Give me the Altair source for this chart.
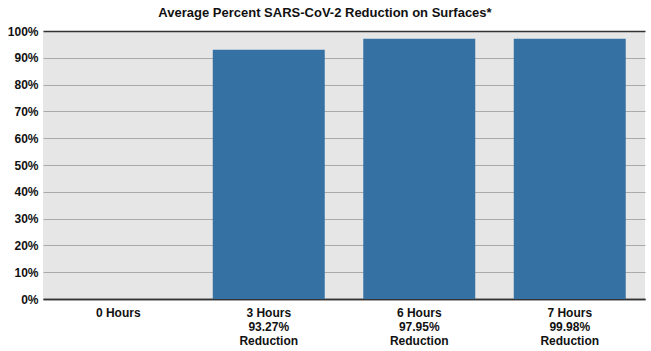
import altair as alt
import pandas as pd

categories = ["0 Hours", "3 Hours", "6 Hours", "7 Hours"]
reduction_text = ["", "93.27%", "97.95%", "99.98%"]
bar_values = [0.0, 93.0, 97.1, 97.1]  # bar heights in percent, as drawn
y_ticks = [0, 10, 20, 30, 40, 50, 60, 70, 80, 90, 100]

labels = [c if not r else f"{c}|{r}|Reduction" for c, r in zip(categories, reduction_text)]
df = pd.DataFrame({"label": labels, "value": [v / 100 for v in bar_values]})

chart = alt.Chart(df).mark_bar(
    color="#3671a3", width=alt.RelativeBandSize(0.744)
).encode(
    x=alt.X(
        "label:N",
        sort=labels,
        scale=alt.Scale(paddingInner=0, paddingOuter=0),
        axis=alt.Axis(
            title=None, labelAngle=0, labelExpr="split(datum.label, '|')",
            labelFont="Liberation Sans", labelFontWeight="bold", labelFontSize=12,
            labelColor="#111111", ticks=False, domainColor="#333333", domainWidth=1.5,
            labelPadding=8, labelLineHeight=14, labelBaseline="top",
        ),
    ),
    y=alt.Y(
        "value:Q",
        scale=alt.Scale(domain=[0, 1], nice=False),
        axis=alt.Axis(
            title=None, format=".0%", values=[t / 100 for t in y_ticks],
            labelFont="Liberation Sans", labelFontWeight="bold", labelFontSize=12,
            labelColor="#111111", domain=False, ticks=False, labelPadding=5,
            grid=True,
            gridColor={"condition": {"test": "datum.value === 0 || datum.value === 1", "value": "#333333"}, "value": "#aaaaaa"},
            gridWidth={"condition": {"test": "datum.value === 0 || datum.value === 1", "value": 1.5}, "value": 1},
        ),
    ),
).properties(
    width=602, height=268,
    title=alt.TitleParams(
        "Average Percent SARS-CoV-2 Reduction on Surfaces*",
        font="Liberation Sans", fontSize=13, fontWeight="bold", color="#111111",
        anchor="middle", dx=-19, offset=5,
    ),
    background="white",
    autosize=alt.AutoSizeParams(type="none"),
    padding={"left": 43, "top": 31, "right": 6, "bottom": 52},
).configure_view(fill="#e6e6e6", stroke=None)

chart.save("out.html", embed_options={"renderer": "svg", "actions": False})
